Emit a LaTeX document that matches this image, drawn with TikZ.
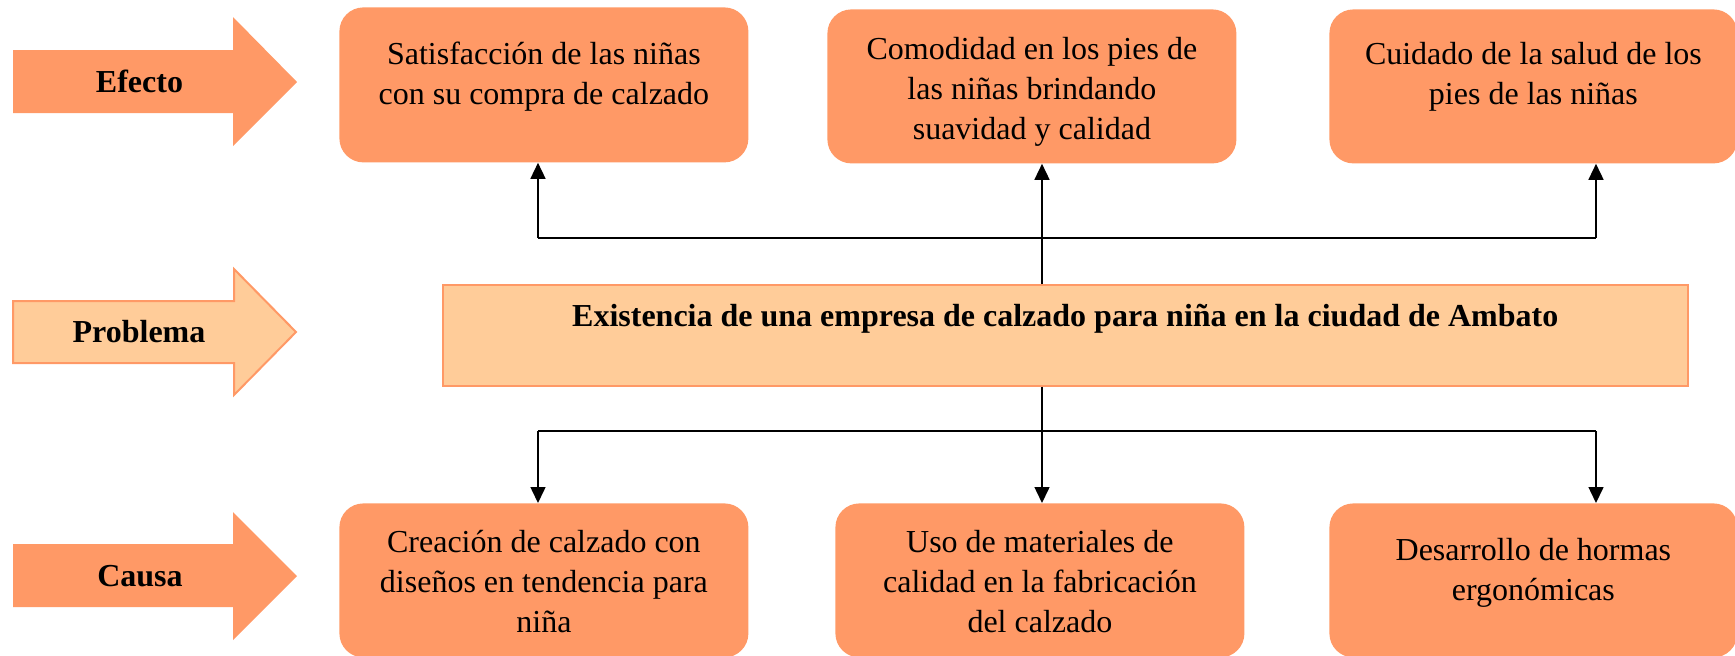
\documentclass[tikz,border=0pt]{standalone}
\usepackage{fontspec}
\setmainfont{Liberation Serif}
\usetikzlibrary{arrows.meta}
\definecolor{orangeA}{HTML}{FF9966}
\definecolor{orangeL}{HTML}{FFCC99}
\definecolor{orangeB}{HTML}{FF9966}
\newcommand{\boxtxt}[4]{\parbox[t][#2][t]{#1}{\centering\fontsize{16}{20}\selectfont\rule{0pt}{#3}#4}}
\begin{document}
\begin{tikzpicture}[x=0.5pt,y=-0.5pt,
  ebox/.style={rectangle, rounded corners=12pt, fill=orangeA, inner sep=0pt, anchor=north west},
  pbox/.style={rectangle, fill=orangeL, draw=orangeB, line width=0.75pt, inner sep=0pt, anchor=north west},
  lbl/.style={font=\fontsize{16}{20}\selectfont\bfseries, inner sep=0pt, anchor=base},
  line/.style={black, line width=0.75pt},
  conn/.style={line, -{Triangle[length=8pt,width=7.5pt]}},
  bigarrow/.style={fill=orangeA},
  bigarrowL/.style={fill=orangeL, draw=orangeB, line width=1pt, line join=miter}
]
\useasboundingbox (0,0) rectangle (1735,655);

% left arrows
\path[bigarrow] (13,50) -- (233,50) -- (233,17) -- (297,82) -- (233,146) -- (233,113) -- (13,113) -- cycle;
\path[bigarrowL] (13,301) -- (234,301) -- (234,269) -- (296,332) -- (234,395) -- (234,363) -- (13,363) -- cycle;
\path[bigarrow] (13,544) -- (233,544) -- (233,512) -- (297,576) -- (233,640) -- (233,607) -- (13,607) -- cycle;
\node[lbl] (efecto) at (139.5,92) {Efecto};
\node[lbl] (problema) at (139,342) {Problema};
\node[lbl] (causa) at (140,586) {Causa};

% effect boxes
\node[ebox] (e1) at (339,7) {\boxtxt{204.5pt}{77.5pt}{28.5pt}{Satisfacción de las niñas\\con su compra de calzado}};
\node[ebox] (e2) at (827,9) {\boxtxt{204.5pt}{77pt}{25pt}{Comodidad en los pies de\\las niñas brindando\\suavidad y calidad}};
\node[ebox] (e3) at (1329,9) {\boxtxt{204pt}{77pt}{27.5pt}{Cuidado de la salud de los\\pies de las niñas}};

% problem box
\node[pbox] (prob) at (442,284) {\parbox[t][50.5pt][t]{622.5pt}{\centering\fontsize{16}{20}\selectfont\bfseries\rule{0pt}{21pt}Existencia de una empresa de calzado para niña en la ciudad de Ambato}};

% cause boxes
\node[ebox] (c1) at (339,503) {\boxtxt{204.5pt}{77pt}{24.5pt}{Creación de calzado con\\diseños en tendencia para\\niña}};
\node[ebox] (c2) at (835,503) {\boxtxt{204.5pt}{77pt}{24.5pt}{Uso de materiales de\\calidad en la fabricación\\del calzado}};
\node[ebox] (c3) at (1329,503) {\boxtxt{204pt}{77pt}{28.5pt}{Desarrollo de hormas\\ergonómicas}};

% connectors top
\coordinate (tl) at (538,238);
\coordinate (tm) at (1042,238);
\coordinate (tr) at (1596,238);
\draw[line] (tl) -- (tr);
\draw[conn] (tm |- prob.north) -- (tm |- e2.south);
\draw[conn] (tl) -- (tl |- e1.south);
\draw[conn] (tr) -- (tr |- e3.south);

% connectors bottom
\coordinate (bl) at (538,431);
\coordinate (bm) at (1042,431);
\coordinate (br) at (1596,431);
\draw[line] (bl) -- (br);
\draw[conn] (bm |- prob.south) -- (bm |- c2.north);
\draw[conn] (bl) -- (bl |- c1.north);
\draw[conn] (br) -- (br |- c3.north);
\end{tikzpicture}
\end{document}
